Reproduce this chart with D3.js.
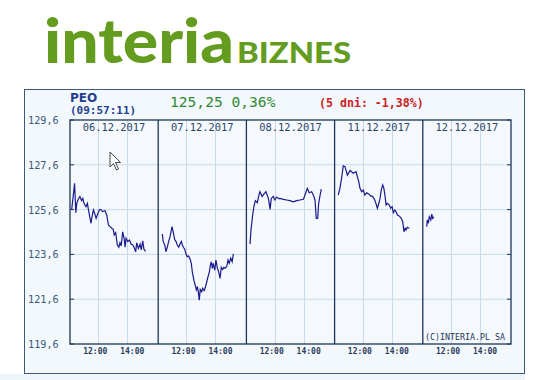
<!DOCTYPE html>
<html>
<head>
<meta charset="utf-8">
<script src="https://cdn.jsdelivr.net/npm/d3@7"></script>
<style>
  body { margin: 0; background: #fff; }
  svg { display: block; }
</style>
</head>
<body>
<div id="chart"></div>
<script>
// Ticker header
const ticker = "PEO";
const quoteTime = "(09:57:11)";
const quote = "125,25 0,36%";
const change5d = "(5 dni: -1,38%)";

// Categories (sessions) and axis labels
const days = ["06.12.2017", "07.12.2017", "08.12.2017", "11.12.2017", "12.12.2017"];
const yTicks = [119.6, 121.6, 123.6, 125.6, 127.6, 129.6];
const hourTicks = ["12:00", "14:00"];

// Intraday prices per session [time, price]
const day1 = [["10:10",125.60],["10:22",126.77],["10:27",125.46],["10:31",125.88],["10:37",126.06],["10:44",126.18],["10:51",126.00],["10:56",126.10],["11:01",125.88],["11:09",125.73],["11:15",125.88],["11:19",125.61],["11:26",125.21],["11:30",124.99],["11:34",125.28],["11:40",125.58],["11:45",125.43],["11:51",125.21],["11:56",125.36],["12:04",125.58],["12:10",125.61],["12:18",125.51],["12:28",125.55],["12:35",125.36],["12:42",124.91],["12:49",124.84],["12:56",124.77],["13:02",124.72],["13:06",124.47],["13:12",124.57],["13:19",124.02],["13:25",123.92],["13:30",124.12],["13:35",123.98],["13:41",124.61],["13:47",124.32],["13:51",123.92],["13:55",124.32],["14:02",124.17],["14:09",124.24],["14:16",124.06],["14:23",124.02],["14:28",123.92],["14:35",123.72],["14:39",124.12],["14:46",123.87],["14:53",124.06],["14:58",123.80],["15:04",124.21],["15:09",123.83],["15:16",123.74]];
const day2 = [["10:20",124.51],["10:24",124.17],["10:30",124.02],["10:35",123.72],["10:41",123.94],["10:46",124.17],["10:52",124.39],["10:56",124.61],["11:00",124.84],["11:05",124.61],["11:11",124.27],["11:17",124.17],["11:22",124.02],["11:28",123.92],["11:33",124.06],["11:39",124.17],["11:43",124.02],["11:47",123.92],["11:53",123.83],["11:58",123.62],["12:03",123.50],["12:09",123.53],["12:15",123.38],["12:20",123.20],["12:24",122.83],["12:28",122.60],["12:32",122.38],["12:37",122.19],["12:41",122.01],["12:45",122.16],["12:49",121.93],["12:53",121.56],["12:57",122.04],["13:03",121.93],["13:07",122.09],["13:13",121.98],["13:18",122.13],["13:24",122.38],["13:29",122.60],["13:35",122.83],["13:39",123.13],["13:43",123.27],["13:47",122.98],["13:51",123.20],["13:57",122.90],["14:02",123.35],["14:08",122.98],["14:13",122.83],["14:19",122.53],["14:24",123.02],["14:30",122.93],["14:35",123.02],["14:41",122.98],["14:47",123.08],["14:52",123.35],["14:57",123.20],["15:03",123.43],["15:09",123.27],["15:14",123.62]];
const day3 = [["10:18",124.06],["10:22",124.69],["10:29",125.36],["10:34",125.73],["10:40",126.00],["10:48",125.91],["10:54",126.21],["10:59",126.40],["11:08",126.18],["11:16",126.30],["11:24",126.40],["11:29",126.25],["11:35",126.06],["11:41",125.61],["11:46",126.10],["11:54",126.19],["12:01",126.03],["12:08",126.16],["12:17",126.09],["12:22",126.10],["12:36",126.06],["12:50",126.03],["13:03",126.00],["13:17",125.95],["13:31",126.00],["13:45",126.03],["13:59",126.06],["14:08",126.33],["14:15",126.55],["14:23",126.35],["14:33",126.40],["14:40",126.25],["14:47",126.03],["14:52",125.21],["14:58",125.21],["15:02",125.88],["15:08",126.25],["15:13",126.51]];
const day4 = [["10:18",126.25],["10:25",126.55],["10:32",127.01],["10:39",127.55],["10:46",127.52],["10:56",127.14],["11:07",127.35],["11:20",127.22],["11:32",127.29],["11:37",127.07],["11:43",126.85],["11:48",126.55],["11:55",126.40],["12:02",126.47],["12:08",126.25],["12:16",126.35],["12:24",126.30],["12:32",126.21],["12:41",126.18],["12:49",126.03],["12:54",125.88],["13:00",125.66],["13:06",125.88],["13:11",126.10],["13:16",126.47],["13:22",126.70],["13:27",126.55],["13:32",126.18],["13:36",125.81],["13:41",125.88],["13:49",125.81],["13:55",125.66],["14:01",125.73],["14:06",125.46],["14:12",125.58],["14:17",125.51],["14:23",125.36],["14:31",125.31],["14:39",125.21],["14:45",125.06],["14:50",124.61],["14:55",124.77],["14:59",124.69],["15:04",124.81],["15:12",124.77]];
const day5 = [["10:19",124.84],["10:22",125.14],["10:26",124.99],["10:30",125.28],["10:36",125.14],["10:40",125.40],["10:44",125.21],["10:49",125.28]];
const sessions = [day1, day2, day3, day4, day5];

const width = 550, height = 380;
const sessionStart = 603, sessionLen = 365; // minutes shown per day column

const toMin = t => { const p = t.split(":"); return +p[0] * 60 + +p[1]; };
const dayPos = (i, t) => i + (toMin(t) - sessionStart) / sessionLen;

const x = d3.scaleLinear().domain([0, days.length]).range([70, 511]);
const y = d3.scaleLinear().domain([119.6, 129.6]).range([344, 120]);

const navy = "#1c3557", grid = "#c9d9e8", mono = "DejaVu Sans Mono, monospace";

const svg = d3.select("#chart").append("svg")
    .attr("width", width)
    .attr("height", height);

// Logo
const logo = svg.append("g").attr("fill", "#639c1e");
logo.append("text")
    .attr("x", 44).attr("y", 63)
    .attr("font-family", "Lato, sans-serif").attr("font-weight", 900)
    .attr("font-size", 60)
    .attr("textLength", 190).attr("lengthAdjust", "spacingAndGlyphs")
    .text("interia");
logo.append("text")
    .attr("x", 237).attr("y", 63)
    .attr("font-family", "Lato, sans-serif").attr("font-weight", 900)
    .attr("font-size", 28)
    .attr("textLength", 114).attr("lengthAdjust", "spacingAndGlyphs")
    .text("BIZNES");

// Outer panel
svg.append("rect").attr("x", 0).attr("y", 374).attr("width", 525).attr("height", 6).attr("fill", "#eef5fb");
svg.append("rect")
    .attr("x", 24.5).attr("y", 89.5).attr("width", 500).attr("height", 284)
    .attr("fill", "#f3f8fc").attr("stroke", "#3d5a78");

// Header
svg.append("text").attr("x", 70).attr("y", 102)
    .attr("font-family", "DejaVu Sans, sans-serif").attr("font-weight", "bold")
    .attr("font-size", 12).attr("fill", "#1f3f8f").text(ticker);
svg.append("text").attr("x", 70).attr("y", 113.5)
    .attr("font-family", mono).attr("font-weight", "bold")
    .attr("font-size", 11).attr("fill", "#1f3f8f").text(quoteTime);
svg.append("text").attr("x", 170).attr("y", 107)
    .attr("font-family", mono).attr("font-size", 14.6)
    .attr("fill", "#348a34").text(quote);
svg.append("text").attr("x", 319).attr("y", 107)
    .attr("font-family", mono).attr("font-weight", "bold")
    .attr("font-size", 11.6).attr("fill", "#cc2020").text(change5d);

// Plot background
svg.append("rect")
    .attr("x", x(0)).attr("y", y(129.6))
    .attr("width", x(days.length) - x(0)).attr("height", y(119.6) - y(129.6))
    .attr("fill", "#f5f9fd");

// Horizontal grid
svg.append("g").selectAll("line")
    .data(yTicks.slice(1, -1))
    .join("line")
    .attr("x1", x(0)).attr("x2", x(days.length))
    .attr("y1", d => y(d)).attr("y2", d => y(d))
    .attr("stroke", grid);

// Vertical hour grid
const hourLines = [];
days.forEach((d, i) => hourTicks.forEach((h, k) => hourLines.push({ i, h, k })));
svg.append("g").selectAll("line")
    .data(hourLines)
    .join("line")
    .attr("x1", d => Math.round(x(dayPos(d.i, d.h))) + 0.5)
    .attr("x2", d => Math.round(x(dayPos(d.i, d.h))) + 0.5)
    .attr("y1", y(129.6)).attr("y2", y(119.6))
    .attr("stroke", grid);

// Day separators
svg.append("g").selectAll("line")
    .data(d3.range(1, days.length))
    .join("line")
    .attr("x1", d => x(d)).attr("x2", d => x(d))
    .attr("y1", y(129.6)).attr("y2", y(119.6))
    .attr("stroke", navy).attr("stroke-width", 1.3);

// Small ticks on both sides
svg.append("g").selectAll("line")
    .data(yTicks)
    .join("line")
    .attr("x1", x(0)).attr("x2", x(0) + 4)
    .attr("y1", d => y(d)).attr("y2", d => y(d))
    .attr("stroke", navy);
svg.append("g").selectAll("line")
    .data(yTicks)
    .join("line")
    .attr("x1", x(days.length) - 4).attr("x2", x(days.length))
    .attr("y1", d => y(d)).attr("y2", d => y(d))
    .attr("stroke", navy);

// Price lines
const line = d3.line()
    .x(d => x(d[0]))
    .y(d => y(d[1]));
svg.append("g").selectAll("path")
    .data(sessions.map((s, i) => s.map(p => [dayPos(i, p[0]), p[1]])))
    .join("path")
    .attr("d", line)
    .attr("fill", "none")
    .attr("stroke", "#1b1a8c")
    .attr("stroke-width", 1.2);

// Frame
svg.append("rect")
    .attr("x", x(0)).attr("y", y(129.6))
    .attr("width", x(days.length) - x(0)).attr("height", y(119.6) - y(129.6))
    .attr("fill", "none").attr("stroke", navy).attr("stroke-width", 1.3);

// Day labels
svg.append("g").selectAll("text")
    .data(days)
    .join("text")
    .attr("x", (d, i) => x(i + 0.5)).attr("y", 131)
    .attr("text-anchor", "middle")
    .attr("font-family", mono).attr("font-size", 10.4)
    .attr("fill", "#2b4566")
    .text(d => d);

// Y labels
svg.append("g").selectAll("text")
    .data(yTicks)
    .join("text")
    .attr("x", 28).attr("y", d => y(d) + 4)
    .attr("font-family", mono).attr("font-size", 10.2)
    .attr("fill", "#3a5a7e")
    .text(d => d3.format(".1f")(d).replace(".", ","));

// Hour labels (set slightly apart from their grid lines, as in the original)
svg.append("g").selectAll("text")
    .data(hourLines)
    .join("text")
    .attr("x", d => x(dayPos(d.i, d.h)) + (d.k === 0 ? -3 : 5)).attr("y", 354)
    .attr("text-anchor", "middle")
    .attr("font-family", mono).attr("font-weight", "bold").attr("font-size", 8)
    .attr("fill", "#2b3d5c")
    .text(d => d.h);

// Copyright
svg.append("text")
    .attr("x", 505).attr("y", 339.5)
    .attr("text-anchor", "end")
    .attr("font-family", mono).attr("font-size", 8.3)
    .attr("fill", "#1c3557")
    .text("(C)INTERIA.PL SA");

// Mouse pointer left in the screenshot
svg.append("path")
    .attr("d", "M110,152 L110,167 L113.5,163.5 L116.5,170 L118.5,169 L115.5,162.5 L120.5,162.5 Z")
    .attr("fill", "#fff").attr("stroke", "#333").attr("stroke-width", 0.9);
</script>
</body>
</html>
